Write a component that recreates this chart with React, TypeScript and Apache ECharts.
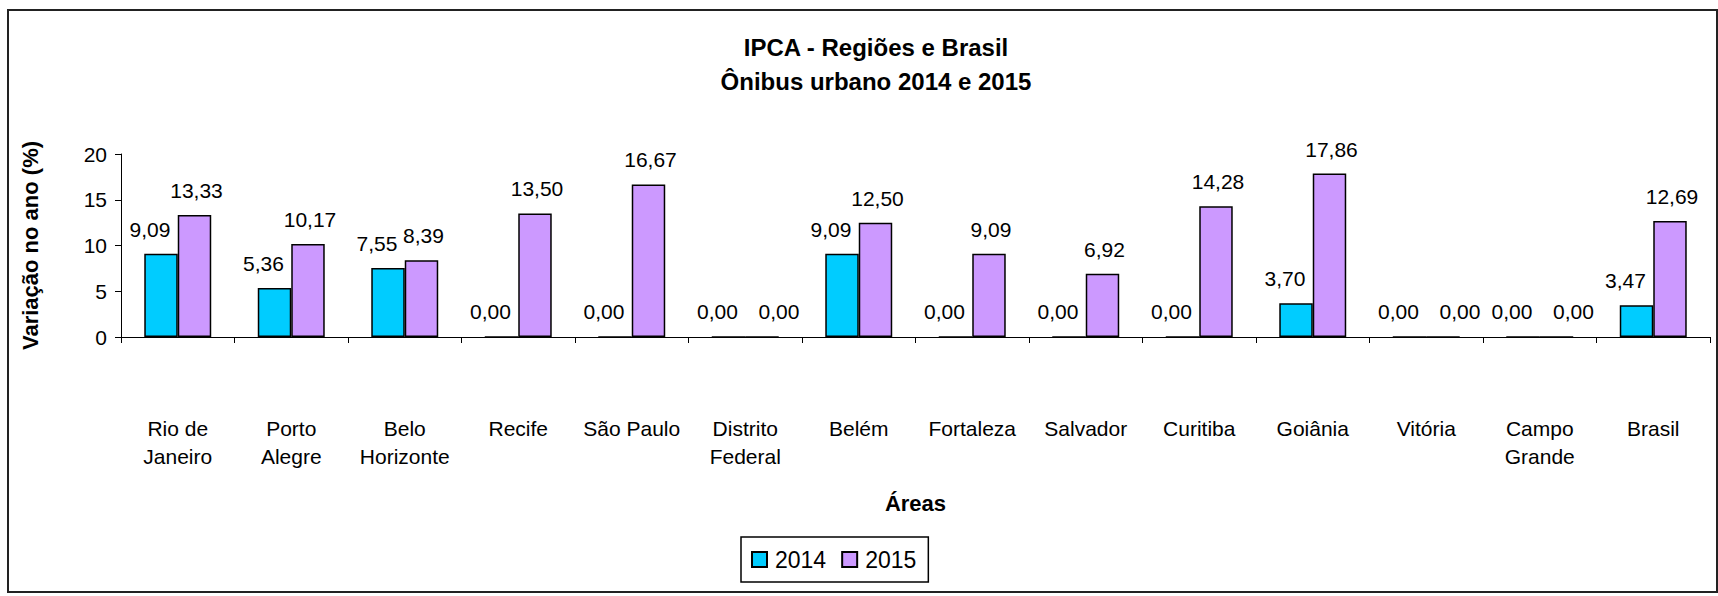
import React, { useEffect, useRef } from "react";
import * as echarts from "echarts";

const categories = [
  "Rio de\nJaneiro",
  "Porto\nAlegre",
  "Belo\nHorizonte",
  "Recife",
  "São Paulo",
  "Distrito\nFederal",
  "Belém",
  "Fortaleza",
  "Salvador",
  "Curitiba",
  "Goiânia",
  "Vitória",
  "Campo\nGrande",
  "Brasil",
];
const values2014 = [9.09, 5.36, 7.55, 0, 0, 0, 9.09, 0, 0, 0, 3.7, 0, 0, 3.47];
const values2015 = [13.33, 10.17, 8.39, 13.5, 16.67, 0, 12.5, 9.09, 6.92, 14.28, 17.86, 0, 0, 12.69];
const yTicks = [0, 5, 10, 15, 20];

const FONT = "'Liberation Sans', Arial, sans-serif";
const fmt = (v: number) => v.toFixed(2).replace(".", ",");

export default function App() {
  const ref = useRef<HTMLDivElement>(null);
  useEffect(() => {
    document.body.style.margin = "0";
    if (!ref.current) return;
    const chart = echarts.init(ref.current, null, { renderer: "svg" });
    const labelBase = {
      show: true,
      position: "top",
      distance: 14,
      fontSize: 21,
      fontFamily: FONT,
      color: "#000",
      formatter: (p: any) => fmt(p.value),
    };
    const data2015 = values2015.map((v) =>
      v === 0 ? { value: v, label: { offset: [17, 0] } } : v
    );
    chart.setOption({
      animation: false,
      backgroundColor: "#fff",
      textStyle: { fontFamily: FONT },
      title: {
        text: "IPCA - Regiões e Brasil\nÔnibus urbano 2014 e 2015",
        left: 871,
        top: 25,
        textAlign: "center",
        textStyle: {
          fontFamily: FONT,
          fontSize: 24,
          fontWeight: "bold",
          color: "#000",
          lineHeight: 34,
        },
      },
      graphic: [
        {
          type: "rect",
          shape: { x: 8, y: 10, width: 1709, height: 582 },
          style: { fill: "none", stroke: "#222", lineWidth: 2 },
          silent: true,
        },
      ],
      legend: {
        left: 741,
        top: 537,
        orient: "horizontal",
        padding: [11, 12, 11, 10],
        itemGap: 15,
        itemWidth: 15,
        itemHeight: 15,
        borderColor: "#000",
        borderWidth: 1.5,
        icon: "rect",
        textStyle: { fontSize: 23, fontFamily: FONT, color: "#000", padding: [0, 0, 0, 3] },
        data: ["2014", "2015"],
      },
      grid: { left: 121, right: 8, top: 154, bottom: 259, containLabel: false },
      xAxis: {
        type: "category",
        data: categories,
        name: "Áreas",
        nameLocation: "middle",
        nameGap: 155,
        nameTextStyle: { fontSize: 22, fontWeight: "bold", fontFamily: FONT, color: "#000" },
        axisLine: { show: true, lineStyle: { color: "#000", width: 1 } },
        axisTick: { show: true, length: 6, alignWithLabel: false, lineStyle: { color: "#000" } },
        axisLabel: {
          interval: 0,
          margin: 77,
          fontSize: 21,
          lineHeight: 28,
          fontFamily: FONT,
          color: "#000",
        },
      },
      yAxis: {
        type: "value",
        min: yTicks[0],
        max: yTicks[yTicks.length - 1],
        interval: 5,
        name: "Variação no ano (%)",
        nameLocation: "middle",
        nameRotate: 90,
        nameGap: 80,
        nameTextStyle: { fontSize: 22, fontWeight: "bold", fontFamily: FONT, color: "#000" },
        axisLine: { show: true, lineStyle: { color: "#000", width: 1 } },
        axisTick: { show: true, length: 6, lineStyle: { color: "#000" } },
        splitLine: { show: false },
        axisLabel: { margin: 14, fontSize: 21, fontFamily: FONT, color: "#000" },
      },
      series: [
        {
          name: "2014",
          type: "bar",
          data: values2014,
          barGap: "0%",
          barCategoryGap: "41%",
          itemStyle: { color: "#00CCFF", borderColor: "#000", borderWidth: 1.5 },
          label: { ...labelBase, offset: [-11, 0] },
        },
        {
          name: "2015",
          type: "bar",
          data: data2015,
          barGap: "0%",
          barCategoryGap: "41%",
          itemStyle: { color: "#CC99FF", borderColor: "#000", borderWidth: 1.5 },
          label: { ...labelBase, offset: [2, 0] },
        },
      ],
    });
    return () => chart.dispose();
  }, []);
  return <div ref={ref} style={{ width: 1718, height: 596 }} />;
}
